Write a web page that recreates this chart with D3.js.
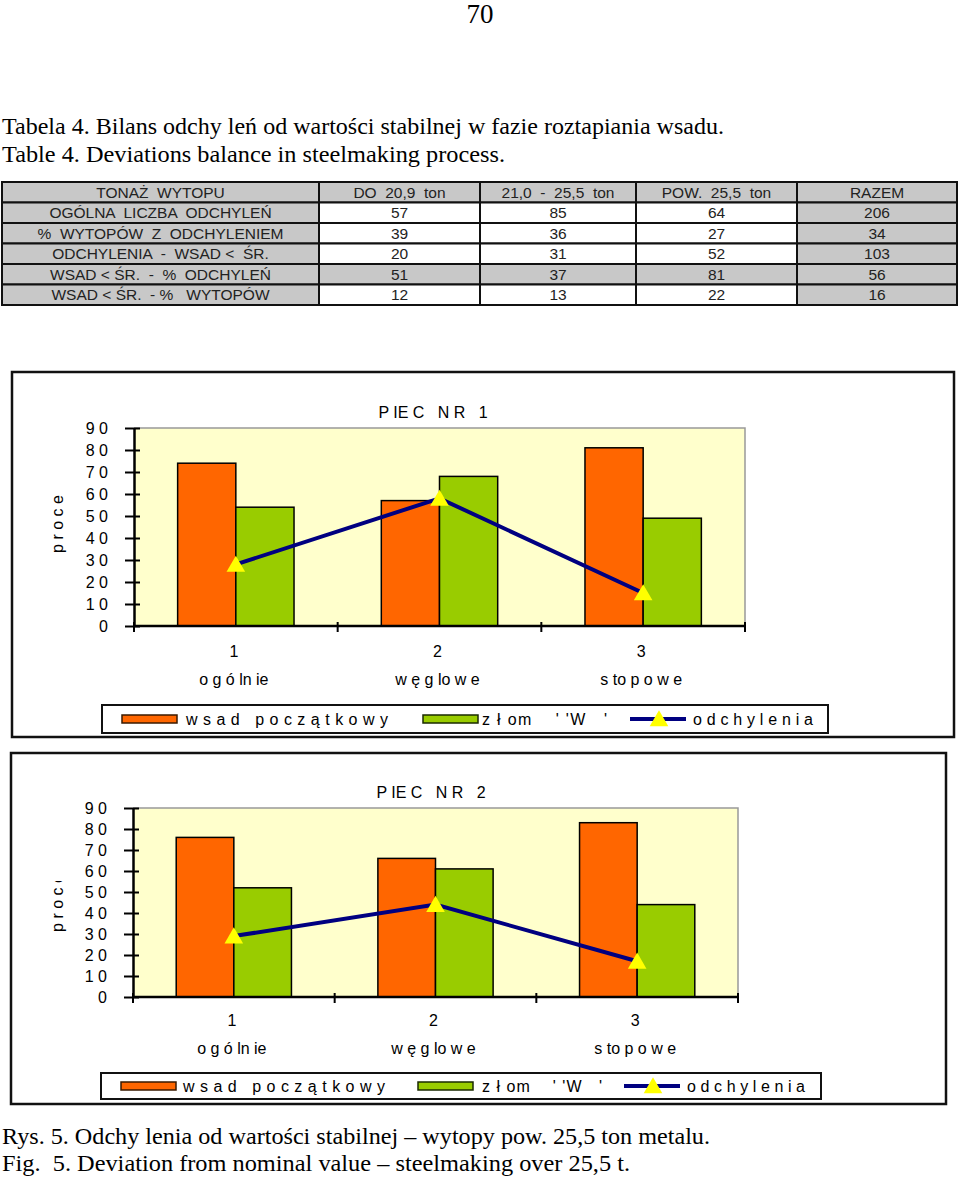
<!DOCTYPE html>
<html><head><meta charset="utf-8">
<script src="https://cdn.jsdelivr.net/npm/d3@7"></script>
<style>
body{margin:0;background:#fff}
svg text{white-space:pre}
</style></head>
<body>
<svg id="page" width="960" height="1178"></svg>
<script>
// ---------- data ----------
const pageNumber = "70";
const tableTitlePL = "Tabela 4. Bilans odchy leń od wartości stabilnej w fazie roztapiania wsadu.";
const tableTitleEN = "Table 4. Deviations balance in steelmaking process.";
const tableHeader = ["TONAŻ  WYTOPU", "DO  20,9  ton", "21,0  -  25,5  ton", "POW.  25,5  ton", "RAZEM"];
const tableRowLabels = ["OGÓLNA  LICZBA  ODCHYLEŃ", "%  WYTOPÓW  Z  ODCHYLENIEM", "ODCHYLENIA  -  WSAD <  ŚR.", "WSAD < ŚR.  -  %  ODCHYLEŃ", "WSAD < ŚR.  - %   WYTOPÓW"];
const tableCol1 = [57, 39, 20, 51, 12];
const tableCol2 = [85, 36, 31, 37, 13];
const tableCol3 = [64, 27, 52, 81, 22];
const tableRazem = [206, 34, 103, 56, 16];
const tableGreyRows = [3];

const categories = ["1", "2", "3"];
const categoryNames = ["o g ó ln ie", "w ę g lo w e", "s to p o w e"];
const yTicks = [0, 10, 20, 30, 40, 50, 60, 70, 80, 90];
const seriesNames = ["w s a d   p o c z ą t k o w y", "z ł om    ' 'W   '", "o d c h y l e n i a"];

const piec1Wsad = [74, 57, 81];
const piec1Zlom = [54, 68, 49];
const piec1Odch = [28, 58, 15];
const piec2Wsad = [76, 66, 83];
const piec2Zlom = [52, 61, 44];
const piec2Odch = [29, 44, 17];

const captionPL = "Rys. 5. Odchy lenia od wartości stabilnej – wytopy pow. 25,5 ton metalu.";
const captionEN = "Fig.  5. Deviation from nominal value – steelmaking over 25,5 t.";

// ---------- styles ----------
const ORANGE = "#ff6600", GREEN = "#99cc00", NAVY = "#000080", YELLOW = "#ffff00", PLOTBG = "#ffffcc";
const SANS = "'Liberation Sans', Arial, sans-serif";
const SERIF = "'Liberation Serif', 'Times New Roman', serif";
const FS = 16;

const svg = d3.select("#page");

// ---------- header text ----------
svg.append("text").attr("x", 480).attr("y", 23).attr("text-anchor", "middle")
  .attr("font-family", SERIF).attr("font-size", 27).text(pageNumber);
svg.append("text").attr("x", 2).attr("y", 134).attr("font-family", SERIF).attr("font-size", 24)
  .attr("textLength", 722).attr("lengthAdjust", "spacingAndGlyphs").text(tableTitlePL);
svg.append("text").attr("x", 2).attr("y", 162).attr("font-family", SERIF).attr("font-size", 24)
  .attr("textLength", 503).attr("lengthAdjust", "spacingAndGlyphs").text(tableTitleEN);

// ---------- table ----------
const colX = [2, 319, 480, 636, 797, 957];
const rowY = d3.range(7).map(i => 182 + i * 20.5);
const tableData = [tableHeader].concat(tableRowLabels.map((l, i) =>
  [l, tableCol1[i], tableCol2[i], tableCol3[i], tableRazem[i]]));
const tg = svg.append("g");
tableData.forEach((row, r) => {
  row.forEach((val, c) => {
    const grey = r === 0 || c === 0 || c === 4 || tableGreyRows.includes(r - 1);
    tg.append("rect").attr("x", colX[c]).attr("y", rowY[r])
      .attr("width", colX[c + 1] - colX[c]).attr("height", rowY[r + 1] - rowY[r])
      .attr("fill", grey ? "#c8c8c8" : "#ffffff").attr("stroke", "#111").attr("stroke-width", 2);
    tg.append("text").attr("x", (colX[c] + colX[c + 1]) / 2).attr("y", (rowY[r] + rowY[r + 1]) / 2 + 5.5)
      .attr("text-anchor", "middle").attr("font-family", SANS).attr("font-size", 15.5)
      .attr("fill", "#222").text(val);
  });
});

// ---------- charts ----------
function drawChart(cfg) {
  const g = svg.append("g");
  g.append("rect").attr("x", cfg.box.x).attr("y", cfg.box.y).attr("width", cfg.box.w).attr("height", cfg.box.h)
    .attr("fill", "#fff").attr("stroke", "#111").attr("stroke-width", 2.5);

  const p = cfg.plot;
  const x = d3.scaleBand().domain(categories).range([p.x, p.x + p.w]).padding(0);
  const xs = d3.scaleBand().domain(["wsad", "zlom"]).range([0, x.bandwidth()]).paddingInner(0).paddingOuter(0.75);
  const y = d3.scaleLinear().domain([0, 90]).range([p.y + p.h, p.y]);

  g.append("rect").attr("x", p.x).attr("y", p.y).attr("width", p.w).attr("height", p.h).attr("fill", PLOTBG);
  g.append("path").attr("d", `M${p.x},${p.y}H${p.x + p.w}V${p.y + p.h}`).attr("fill", "none")
    .attr("stroke", "#999").attr("stroke-width", 1.5);

  // title
  g.append("text").attr("x", cfg.titleX).attr("y", cfg.titleY).attr("text-anchor", "middle")
    .attr("font-family", SANS).attr("font-size", FS).text(cfg.title);

  // bars
  const rows = categories.map((c, i) => ({ c, wsad: cfg.wsad[i], zlom: cfg.zlom[i], odch: cfg.odch[i] }));
  [["wsad", ORANGE], ["zlom", GREEN]].forEach(([k, col]) => {
    g.selectAll(null).data(rows).join("rect")
      .attr("x", d => x(d.c) + xs(k)).attr("width", xs.bandwidth())
      .attr("y", d => y(d[k])).attr("height", d => y(0) - y(d[k]))
      .attr("fill", col).attr("stroke", "#000").attr("stroke-width", 1.5);
  });

  // y axis
  const ya = g.append("g").attr("transform", `translate(${p.x},0)`)
    .call(d3.axisLeft(y).tickValues(yTicks).tickSizeInner(9).tickSizeOuter(0).tickPadding(17)
      .tickFormat(d => String(d).split("").join(" ")));
  ya.select(".domain").attr("stroke", "#000").attr("stroke-width", 2.5);
  ya.selectAll(".tick line").attr("x1", 6).attr("stroke", "#000").attr("stroke-width", 2);
  ya.selectAll(".tick text").attr("font-family", SANS).attr("font-size", FS).attr("fill", "#000");

  // x axis (ticks at category boundaries)
  const bounds = categories.map(c => x(c)).concat([x.range()[1]]);
  const yb = y(0);
  g.append("line").attr("x1", p.x).attr("x2", p.x + p.w).attr("y1", yb).attr("y2", yb)
    .attr("stroke", "#000").attr("stroke-width", 2.5);
  g.selectAll(null).data(bounds).join("line")
    .attr("x1", d => d).attr("x2", d => d).attr("y1", yb - 4).attr("y2", yb + 6)
    .attr("stroke", "#000").attr("stroke-width", 2);
  g.selectAll(null).data(categories).join("text")
    .attr("x", d => x(d) + x.bandwidth() / 2 - 2).attr("y", cfg.numY)
    .attr("text-anchor", "middle").attr("font-family", SANS).attr("font-size", FS).text(d => d);
  g.selectAll(null).data(categoryNames).join("text")
    .attr("x", (d, i) => x(categories[i]) + x.bandwidth() / 2 - 2).attr("y", cfg.nameY)
    .attr("text-anchor", "middle").attr("font-family", SANS).attr("font-size", FS).text(d => d);

  // y label (optionally clipped like in the original)
  const ylg = g.append("g");
  if (cfg.ylab.clipTop) {
    const id = "clip" + cfg.title.slice(-1);
    svg.append("clipPath").attr("id", id).append("rect")
      .attr("x", cfg.ylab.x - 25).attr("y", cfg.ylab.clipTop).attr("width", 50).attr("height", 200);
    ylg.attr("clip-path", `url(#${id})`);
  }
  ylg.append("text").attr("transform", `translate(${cfg.ylab.x},${cfg.ylab.y}) rotate(-90)`)
    .attr("text-anchor", "middle").attr("font-family", SANS).attr("font-size", FS).text("p r o c e");

  // line + triangles
  const line = d3.line().x(d => x(d.c) + x.bandwidth() / 2).y(d => y(d.odch));
  g.append("path").datum(rows).attr("d", line).attr("fill", "none").attr("stroke", NAVY).attr("stroke-width", 4);
  const tri = d3.symbol().type(d3.symbolTriangle).size(150);
  g.selectAll(null).data(rows).join("path").attr("d", tri)
    .attr("transform", d => `translate(${x(d.c) + x.bandwidth() / 2},${y(d.odch) + 2})`).attr("fill", YELLOW);

  // legend
  const L = cfg.legend;
  g.append("rect").attr("x", L.x).attr("y", L.y).attr("width", L.w).attr("height", L.h)
    .attr("fill", "#fff").attr("stroke", "#111").attr("stroke-width", 2);
  const cy = L.y + L.h / 2;
  g.append("rect").attr("x", L.sw1).attr("y", cy - 4).attr("width", 55).attr("height", 8)
    .attr("fill", ORANGE).attr("stroke", "#3a1a00").attr("stroke-width", 1.5);
  g.append("rect").attr("x", L.sw2).attr("y", cy - 4).attr("width", 55).attr("height", 8)
    .attr("fill", GREEN).attr("stroke", "#1a2a00").attr("stroke-width", 1.5);
  g.append("line").attr("x1", L.ln).attr("x2", L.ln + 56).attr("y1", cy).attr("y2", cy)
    .attr("stroke", NAVY).attr("stroke-width", 4);
  g.append("path").attr("d", tri).attr("transform", `translate(${L.ln + 29},${cy + 2})`).attr("fill", YELLOW);
  seriesNames.forEach((s, i) => {
    g.append("text").attr("x", L.tx[i]).attr("y", cy + 5.5).attr("font-family", SANS).attr("font-size", FS)
      .attr("textLength", L.tw[i]).attr("lengthAdjust", "spacing").text(s);
  });
}

drawChart({
  title: "P IE C   N R   1", titleX: 433, titleY: 418,
  box: { x: 12, y: 372, w: 942, h: 365 },
  plot: { x: 134, y: 428, w: 611, h: 198 },
  numY: 657, nameY: 685,
  ylab: { x: 63, y: 524 },
  wsad: piec1Wsad, zlom: piec1Zlom, odch: piec1Odch,
  legend: { x: 102, y: 705, w: 726, h: 28, sw1: 122, sw2: 423, ln: 630, tx: [186, 482, 693], tw: [202, 125, 120] }
});

drawChart({
  title: "P IE C   N R   2", titleX: 431, titleY: 798,
  box: { x: 11, y: 753, w: 935, h: 351 },
  plot: { x: 133, y: 808, w: 605, h: 189 },
  numY: 1026, nameY: 1054,
  ylab: { x: 63, y: 903, clipTop: 881 },
  wsad: piec2Wsad, zlom: piec2Zlom, odch: piec2Odch,
  legend: { x: 101, y: 1073, w: 720, h: 26, sw1: 121, sw2: 418, ln: 624, tx: [183, 482, 687], tw: [202, 120, 118] }
});

// ---------- captions ----------
svg.append("text").attr("x", 2).attr("y", 1144).attr("font-family", SERIF).attr("font-size", 24)
  .attr("textLength", 708).attr("lengthAdjust", "spacingAndGlyphs").text(captionPL);
svg.append("text").attr("x", 2).attr("y", 1171).attr("font-family", SERIF).attr("font-size", 24)
  .attr("textLength", 628).attr("lengthAdjust", "spacingAndGlyphs").text(captionEN);
</script>
</body></html>
